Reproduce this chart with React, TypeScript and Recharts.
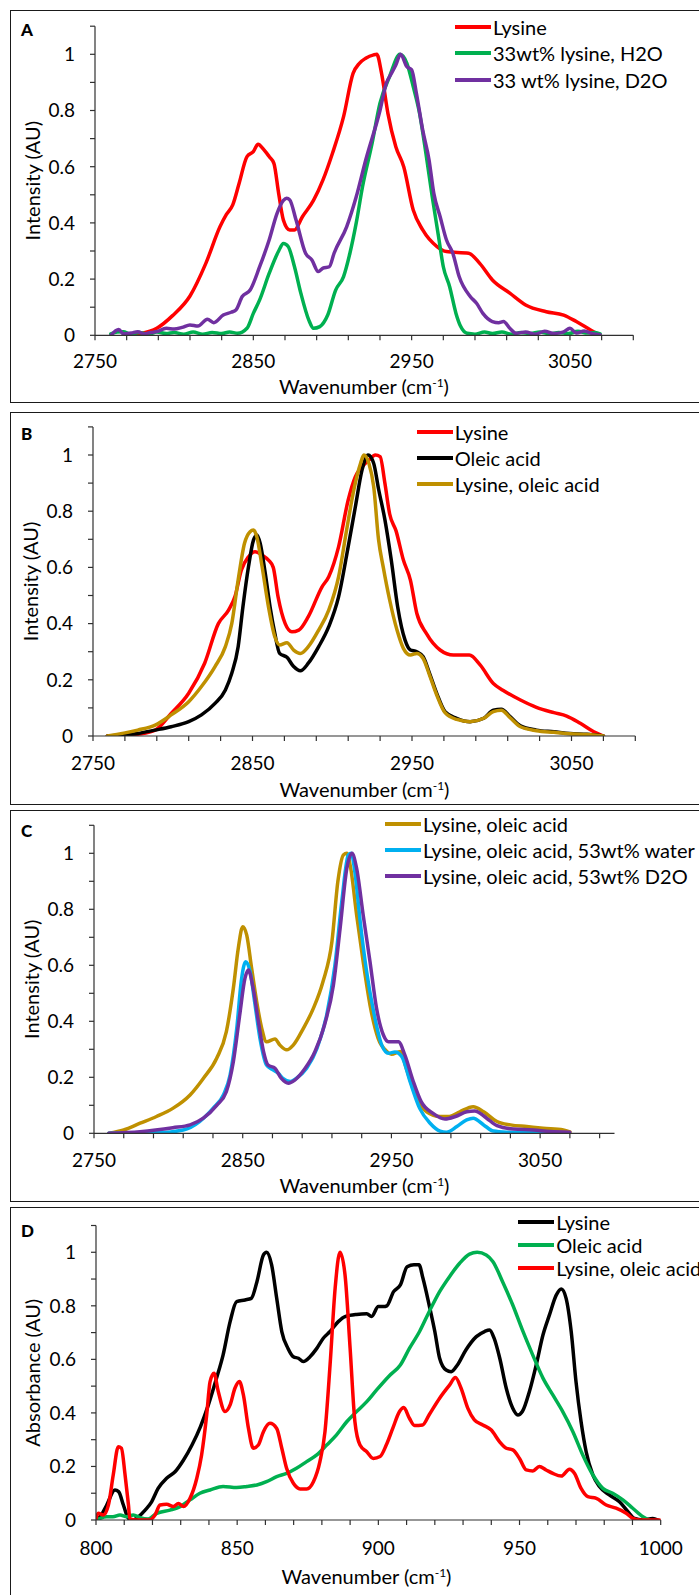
import { Legend, Line, LineChart, XAxis, YAxis } from 'recharts'

type Pt = [number, number]

// values: [wavenumber, normalised intensity]

// A: lysine, neat and in solution
const aLysine: Pt[] = [
  [2772, 0], [2778, 0.005], [2789, 0.025], [2799, 0.07], [2810, 0.14], [2820, 0.256], [2829, 0.387],
  [2833, 0.43], [2837, 0.464], [2841, 0.54], [2846, 0.636], [2850, 0.654], [2853, 0.68], [2856, 0.665],
  [2860, 0.636], [2863, 0.612], [2866, 0.505], [2869, 0.41], [2873, 0.375], [2876, 0.375], [2881, 0.422],
  [2888, 0.48], [2894, 0.553], [2900, 0.648], [2907, 0.778], [2913, 0.932], [2917, 0.968], [2921, 0.986],
  [2926, 0.998], [2928, 1.0], [2931, 0.932], [2935, 0.79], [2940, 0.671], [2945, 0.6], [2951, 0.446],
  [2957, 0.375], [2966, 0.316], [2972, 0.298], [2986, 0.292], [2993, 0.256], [3001, 0.197], [3012, 0.15],
  [3022, 0.108], [3035, 0.084], [3046, 0.072], [3054, 0.049], [3063, 0.019], [3069, 0],
]
const aLysineH2O: Pt[] = [
  [2760, 0.005], [2764, 0.012], [2768, 0.013], [2772, 0.005], [2778, 0.01], [2784, 0.004], [2789, 0.012],
  [2795, 0.006], [2800, 0.01], [2806, 0.004], [2812, 0.012], [2818, 0.004], [2824, 0.01], [2830, 0.006],
  [2835, 0.012], [2840, 0.007], [2846, 0.025], [2850, 0.078], [2854, 0.126], [2860, 0.22], [2866, 0.3],
  [2869, 0.327], [2872, 0.316], [2876, 0.244], [2880, 0.15], [2885, 0.055], [2888, 0.025], [2892, 0.031],
  [2897, 0.072], [2902, 0.161], [2907, 0.209], [2911, 0.292], [2915, 0.4], [2919, 0.53], [2925, 0.683],
  [2930, 0.826], [2936, 0.92], [2942.6, 1.0], [2947, 0.968], [2951, 0.885], [2955, 0.79], [2959, 0.648],
  [2963, 0.493], [2967, 0.351], [2970, 0.244], [2974, 0.173], [2978, 0.078], [2981, 0.031], [2985, 0.007],
  [2990, 0.004], [2996, 0.012], [3001, 0.006], [3007, 0.012], [3013, 0.004], [3019, 0.01], [3025, 0.006],
  [3031, 0.012], [3037, 0.005], [3043, 0.01], [3049, 0.006], [3055, 0.014], [3061, 0.008], [3066, 0.01],
  [3069, 0.005],
]
const aLysineD2O: Pt[] = [
  [2760, 0], [2765, 0.021], [2768, 0.005], [2773, 0.008], [2777, 0.013], [2781, 0.005], [2785, 0.01],
  [2789, 0.013], [2795, 0.025], [2800, 0.022], [2805, 0.028], [2810, 0.037], [2815, 0.033], [2821, 0.057],
  [2825, 0.045], [2831, 0.072], [2836, 0.082], [2839, 0.09], [2843, 0.138], [2848, 0.161], [2854, 0.244],
  [2860, 0.339], [2865, 0.434], [2869, 0.48], [2871, 0.488], [2873, 0.482], [2877, 0.41], [2883, 0.292],
  [2887, 0.268], [2891, 0.227], [2894, 0.239], [2898, 0.244], [2901, 0.292], [2909, 0.387], [2915, 0.493],
  [2921, 0.624], [2930, 0.8], [2934, 0.897], [2937, 0.93], [2940, 0.962], [2943, 1.0], [2947, 0.956],
  [2950, 0.945], [2953, 0.861], [2957, 0.73], [2961, 0.624], [2964, 0.505], [2968, 0.422], [2972, 0.339],
  [2976, 0.292], [2980, 0.209], [2987, 0.138], [2991, 0.114], [2995, 0.078], [3001, 0.049], [3005, 0.045],
  [3008, 0.049], [3012, 0.025], [3016, 0.007], [3022, 0.012], [3028, 0.004], [3034, 0.014], [3040, 0.006],
  [3046, 0.012], [3050, 0.025], [3054, 0.008], [3059, 0.015], [3064, 0.006], [3069, 0.002],
]

// B: lysine, oleic acid, mixture
const bLysine: Pt[] = [
  [2759, 0], [2770, 0], [2778, 0.006], [2789, 0.021], [2799, 0.08], [2810, 0.152], [2820, 0.259],
  [2828.6, 0.4], [2835, 0.448], [2839, 0.496], [2843, 0.59], [2847.5, 0.638], [2851.6, 0.656], [2856, 0.644],
  [2860, 0.626], [2863, 0.6], [2866, 0.496], [2870.5, 0.4], [2874.7, 0.371], [2879, 0.377], [2885, 0.425],
  [2893.6, 0.531], [2897.8, 0.567], [2904, 0.674], [2910, 0.84], [2914.5, 0.923], [2918.7, 0.958],
  [2923, 0.982], [2927, 1.0], [2930, 0.994], [2933, 0.9], [2936, 0.79], [2940, 0.73], [2944.6, 0.626],
  [2949, 0.555], [2953, 0.437], [2959, 0.365], [2967.6, 0.306], [2976, 0.288], [2986, 0.288], [2992.7, 0.253],
  [3001, 0.187], [3007, 0.163], [3018, 0.128], [3028, 0.102], [3039, 0.083], [3047, 0.071], [3055.5, 0.045],
  [3064, 0.015], [3070, 0],
]
const bOleic: Pt[] = [
  [2759, 0], [2778, 0.009], [2789, 0.021], [2799, 0.033], [2810, 0.051], [2818, 0.075], [2826.5, 0.116],
  [2833, 0.164], [2837, 0.223], [2841, 0.318], [2844, 0.46], [2847.5, 0.603], [2850.6, 0.697],
  [2852.7, 0.715], [2854.8, 0.686], [2858, 0.579], [2861, 0.46], [2864, 0.365], [2867, 0.294],
  [2871.6, 0.28], [2875.8, 0.247], [2880, 0.232], [2885, 0.259], [2891.5, 0.318], [2897.8, 0.389],
  [2904, 0.496], [2910, 0.674], [2914.5, 0.816], [2918.7, 0.947], [2922.5, 1.0], [2926, 0.97], [2929, 0.88],
  [2933, 0.77], [2937, 0.626], [2941, 0.46], [2945.6, 0.342], [2949, 0.306], [2953, 0.3], [2957, 0.282],
  [2961, 0.223], [2965.5, 0.152], [2970.7, 0.087], [2978, 0.063], [2986.4, 0.051], [2995, 0.063],
  [3001, 0.092], [3006, 0.095], [3011.5, 0.069], [3018, 0.036], [3028, 0.021], [3039, 0.015], [3049, 0.009],
  [3059.7, 0.006], [3070, 0],
]
const bMix: Pt[] = [
  [2759, 0], [2778, 0.021], [2789, 0.039], [2799, 0.075], [2810, 0.122], [2818, 0.176], [2826.5, 0.247],
  [2833, 0.318], [2837, 0.4], [2841, 0.555], [2845, 0.686], [2848.5, 0.727], [2850.6, 0.733], [2852.7, 0.709],
  [2856, 0.603], [2860, 0.46], [2864, 0.353], [2867, 0.324], [2871.6, 0.332], [2875.8, 0.306], [2880, 0.294],
  [2885, 0.318], [2891.5, 0.377], [2897.8, 0.448], [2904, 0.567], [2909, 0.733], [2913.5, 0.875],
  [2917.7, 0.97], [2919.8, 1.0], [2923, 0.97], [2926, 0.887], [2929, 0.7], [2932, 0.6], [2936, 0.484],
  [2940.6, 0.377], [2944.6, 0.312], [2949, 0.288], [2953, 0.294], [2957, 0.276], [2961, 0.217],
  [2965.5, 0.146], [2970.7, 0.083], [2978, 0.059], [2986.4, 0.051], [2995, 0.063], [3001, 0.087],
  [3006, 0.092], [3011.5, 0.065], [3018, 0.033], [3028, 0.019], [3039, 0.013], [3049, 0.008],
  [3059.7, 0.005], [3070, 0],
]

// C: mixture with water / D2O
const cMix: Pt[] = [
  [2760, 0], [2770, 0.012], [2781, 0.036], [2792, 0.06], [2803, 0.089], [2814.6, 0.137], [2823.5, 0.196],
  [2832.5, 0.268], [2839, 0.363], [2843.7, 0.518], [2847, 0.66], [2850, 0.738], [2852.7, 0.708],
  [2856, 0.589], [2859.4, 0.47], [2862.8, 0.375], [2866, 0.327], [2871.7, 0.337], [2875, 0.315],
  [2879.6, 0.298], [2884, 0.315], [2890.8, 0.375], [2897.5, 0.446], [2904, 0.542], [2910, 0.685],
  [2914, 0.9], [2917.7, 0.994], [2920, 1.0], [2922.5, 0.95], [2926.6, 0.78], [2931, 0.613], [2935.6, 0.458],
  [2941, 0.34], [2947, 0.292], [2950, 0.282], [2956, 0.292], [2960, 0.232], [2967, 0.125], [2973.7, 0.077],
  [2982.7, 0.06], [2989, 0.06], [2996, 0.077], [3005, 0.095], [3012, 0.077], [3021, 0.042], [3030, 0.03],
  [3041, 0.024], [3052, 0.018], [3065.6, 0.012], [3070, 0.005],
]
const cMixWater: Pt[] = [
  [2760, 0], [2792, 0.002], [2810, 0.012], [2821, 0.042], [2830, 0.089], [2837, 0.137], [2841.5, 0.208],
  [2846, 0.375], [2849, 0.542], [2852, 0.613], [2855, 0.577], [2858, 0.47], [2861.6, 0.339], [2866, 0.244],
  [2870.6, 0.226], [2874, 0.214], [2877, 0.196], [2882, 0.185], [2886, 0.196], [2893, 0.232], [2900, 0.304],
  [2906.5, 0.423], [2912, 0.6], [2916.6, 0.827], [2921, 0.994], [2923, 1.0], [2925.5, 0.93], [2929, 0.756],
  [2933, 0.589], [2938, 0.435], [2943.5, 0.315], [2948, 0.286], [2952.4, 0.29], [2957, 0.274],
  [2962.5, 0.185], [2969, 0.089], [2976, 0.036], [2982.7, 0.008], [2987, 0.004], [2994, 0.024],
  [3000.6, 0.048], [3005, 0.054], [3012, 0.03], [3018.6, 0.008], [3027.5, 0.004], [3045, 0.002], [3065, 0],
]
const cMixD2O: Pt[] = [
  [2760, 0], [2781, 0.006], [2803, 0.02], [2814.6, 0.03], [2823.5, 0.054], [2832.5, 0.1], [2839, 0.149],
  [2843.7, 0.256], [2848, 0.423], [2851.5, 0.553], [2853.8, 0.583], [2857, 0.518], [2860.5, 0.4],
  [2864, 0.292], [2867, 0.244], [2871.7, 0.232], [2876, 0.196], [2880.7, 0.179], [2885, 0.19], [2892, 0.232],
  [2898.6, 0.292], [2905, 0.387], [2911, 0.53], [2915.5, 0.732], [2920, 0.946], [2923.5, 1.0],
  [2926.6, 0.946], [2931, 0.78], [2935.6, 0.613], [2940, 0.446], [2944.6, 0.351], [2948, 0.327],
  [2954.7, 0.327], [2959, 0.28], [2964.7, 0.185], [2970, 0.113], [2978, 0.071], [2986, 0.051], [2993, 0.06],
  [3000.6, 0.077], [3006, 0.08], [3014, 0.054], [3021, 0.027], [3032, 0.015], [3045.5, 0.012],
  [3056.7, 0.006], [3070, 0.004],
]

// D: IR absorbance
const dLysine: Pt[] = [
  [800, 0], [801.4, 0.012], [803.8, 0.056], [806.7, 0.112], [808, 0.106], [809.7, 0.056], [811.5, 0.006],
  [813, 0], [815, 0.012], [817.4, 0.037], [819.7, 0.068], [822, 0.118], [825, 0.156], [828, 0.18],
  [831, 0.224], [834, 0.28], [837, 0.349], [839.8, 0.43], [842.7, 0.53], [845, 0.616], [847.5, 0.741],
  [849.8, 0.816], [852.8, 0.822], [855, 0.828], [857, 0.89], [859.3, 0.99], [860.4, 1.0], [862.2, 0.953],
  [864, 0.828], [865.8, 0.704], [868, 0.641], [869.9, 0.61], [871.7, 0.604], [873.4, 0.592], [875.8, 0.61],
  [878.2, 0.641], [880.5, 0.679], [882.9, 0.704], [885.8, 0.741], [888.2, 0.76], [892.3, 0.768],
  [895.9, 0.77], [897.6, 0.76], [900, 0.797], [901.8, 0.797], [903, 0.8], [905.4, 0.853], [907.8, 0.878],
  [910.2, 0.946], [912.6, 0.953], [914.4, 0.953], [915.8, 0.903], [918, 0.803], [920, 0.704], [921.7, 0.604],
  [924, 0.56], [925.8, 0.554], [928, 0.579], [931, 0.635], [934.7, 0.685], [937.6, 0.704], [939.4, 0.71],
  [941, 0.679], [943, 0.604], [945.3, 0.492], [947.6, 0.417], [949.4, 0.392], [951, 0.405], [953.5, 0.48],
  [955.9, 0.579], [958.3, 0.691], [960.6, 0.766], [963, 0.84], [964.8, 0.863], [966.5, 0.828],
  [968.3, 0.704], [970, 0.517], [971.8, 0.367], [973.6, 0.255], [976, 0.168], [978.3, 0.125], [981.9, 0.093],
  [985.4, 0.068], [988.4, 0.031], [990.7, 0.006], [993.7, 0], [997.2, 0.006], [999, 0],
]
const dOleic: Pt[] = [
  [801, 0.004], [803.8, 0.012], [806, 0.012], [808.5, 0.019], [810.9, 0.012], [813.2, 0.019], [815.6, 0.009],
  [818.5, 0.004], [821.5, 0.025], [826.2, 0.037], [829.8, 0.05], [833.3, 0.075], [836.8, 0.1], [840.4, 0.112],
  [845, 0.125], [849.8, 0.121], [853.4, 0.125], [857, 0.131], [860.4, 0.143], [864, 0.162], [867.5, 0.174],
  [871, 0.193], [874.6, 0.218], [878.2, 0.243], [881.7, 0.28], [885.2, 0.318], [888.8, 0.367],
  [892.3, 0.405], [895.9, 0.442], [899.4, 0.486], [904, 0.54], [907.8, 0.579], [911, 0.641], [914.6, 0.704],
  [918, 0.778], [921.7, 0.853], [925.2, 0.909], [928.8, 0.959], [932.3, 0.993], [935, 1.0], [938.2, 0.99],
  [940.6, 0.965], [944, 0.89], [947.6, 0.803], [951, 0.71], [954.7, 0.616], [958.3, 0.53], [961.8, 0.467],
  [965.3, 0.405], [968.9, 0.33], [972.4, 0.243], [976, 0.168], [979.5, 0.118], [983, 0.1], [986.6, 0.075],
  [990.1, 0.044], [993.7, 0.012], [996, 0],
]
const dMix: Pt[] = [
  [800, 0.006], [800.8, 0.025], [802.6, 0.019], [804.4, 0.056], [806.1, 0.168], [807.9, 0.274], [809, 0.268],
  [810.3, 0.168], [811.5, 0.056], [812, 0.004], [814.4, 0], [819, 0], [820.9, 0.019], [822.7, 0.056],
  [825, 0.059], [827.4, 0.05], [829.2, 0.062], [831, 0.05], [833.3, 0.081], [835.7, 0.156], [837.4, 0.243],
  [839.2, 0.392], [840.4, 0.517], [841.8, 0.548], [843.3, 0.48], [845.7, 0.405], [847.5, 0.43],
  [849.2, 0.492], [850.8, 0.517], [852.2, 0.467], [854, 0.342], [855.7, 0.268], [857.5, 0.28], [859.3, 0.33],
  [861.6, 0.361], [864, 0.342], [865.8, 0.268], [867.5, 0.193], [869.9, 0.137], [872.3, 0.116],
  [874.6, 0.116], [877, 0.143], [879.3, 0.218], [881.1, 0.33], [882.9, 0.579], [884.7, 0.866], [886.4, 1.0],
  [888.2, 0.915], [890, 0.641], [891.7, 0.367], [893.5, 0.28], [895.9, 0.255], [898.2, 0.23], [900.6, 0.237],
  [902.8, 0.28], [905.1, 0.342], [907.5, 0.405], [909, 0.42], [911, 0.38], [912.8, 0.353], [915.7, 0.355],
  [918, 0.393], [921.7, 0.455], [925.2, 0.504], [927.3, 0.532], [929.3, 0.492], [931.7, 0.417], [934, 0.374],
  [937, 0.355], [940, 0.336], [942.9, 0.293], [945.3, 0.268], [947.6, 0.262], [950, 0.23], [952.4, 0.187],
  [954.7, 0.183], [957, 0.2], [959.4, 0.187], [961.8, 0.174], [964.8, 0.164], [967.7, 0.19], [969.5, 0.174],
  [971.8, 0.118], [974.2, 0.087], [977.2, 0.081], [980.7, 0.056], [984.2, 0.044], [987.8, 0.025],
  [990.1, 0.006], [992.5, 0], [999.6, 0],
]

const yTicks = [0, 0.1, 0.2, 0.3, 0.4, 0.5, 0.6, 0.7, 0.8, 0.9, 1, 1.1]
const yLabels = [0, 0.2, 0.4, 0.6, 0.8, 1]
const ramanTicks = [
  2750, 2770, 2790, 2810, 2830, 2850, 2870, 2890, 2910, 2930, 2950, 2970, 2990, 3010, 3030, 3050, 3070, 3090,
]
const ramanLabels = [2750, 2850, 2950, 3050]
const irTicks = [
  800, 810, 820, 830, 840, 850, 860, 870, 880, 890, 900, 910, 920, 930, 940, 950, 960, 970, 980, 990, 1000,
]
const irLabels = [800, 850, 900, 950, 1000]

const RED = '#ff0000'
const GREEN = '#00b050'
const PURPLE = '#7030a0'
const BLACK = '#000000'
const GOLD = '#bf9000'
const CYAN = '#00b0f0'

const PAGE_W = 699
const PAGE_H = 1595
const Y_AXIS_W = 40
const X_AXIS_H = 40
const FONT = 'Lato, "Open Sans", sans-serif'
const AXIS = '#303030'

type Series = { name: string; color: string; points: Pt[] }

type PanelCfg = {
  letter: string
  letterY: number
  yTitle: string
  yTitleX: number
  xTitleX: number
  xTitleY: number
  boxTop: number
  boxH: number
  chartTop: number
  chartH: number
  plot: { l: number; r: number; t: number; b: number }
  xDomain: [number, number]
  xTicks: number[]
  xLabels: number[]
  labelDrop: number
  legend: { left: number; top: number; row: number }
  series: Series[]
}

const panels: PanelCfg[] = [
  {
    letter: 'A', letterY: 36, yTitle: 'Intensity (AU)', yTitleX: 33, xTitleX: 364, xTitleY: 394,
    boxTop: 10, boxH: 393.3, chartTop: 10, chartH: 393,
    plot: { l: 95, r: 633.3, t: 26.2, b: 335.3 },
    xDomain: [2750, 3090], xTicks: ramanTicks, xLabels: ramanLabels, labelDrop: 28,
    legend: { left: 455, top: 13.4, row: 26.7 },
    series: [
      { name: 'Lysine', color: RED, points: aLysine },
      { name: '33wt% lysine, H2O', color: GREEN, points: aLysineH2O },
      { name: '33 wt% lysine, D2O', color: PURPLE, points: aLysineD2O },
    ],
  },
  {
    letter: 'B', letterY: 440, yTitle: 'Intensity (AU)', yTitleX: 30.5, xTitleX: 364.5, xTitleY: 797,
    boxTop: 411.7, boxH: 393.3, chartTop: 412, chartH: 393,
    plot: { l: 93, r: 635.3, t: 426.9, b: 736 },
    xDomain: [2750, 3090], xTicks: ramanTicks, xLabels: ramanLabels, labelDrop: 29,
    legend: { left: 416.7, top: 418.5, row: 26.3 },
    series: [
      { name: 'Lysine', color: RED, points: bLysine },
      { name: 'Oleic acid', color: BLACK, points: bOleic },
      { name: 'Lysine, oleic acid', color: GOLD, points: bMix },
    ],
  },
  {
    letter: 'C', letterY: 836.7, yTitle: 'Intensity (AU)', yTitleX: 32, xTitleX: 364.5, xTitleY: 1193,
    boxTop: 810, boxH: 391.7, chartTop: 810, chartH: 391,
    plot: { l: 94, r: 614.5, t: 825.3, b: 1133.3 },
    xDomain: [2750, 3100], xTicks: ramanTicks, xLabels: ramanLabels, labelDrop: 28.4,
    legend: { left: 385, top: 811.4, row: 25.9 },
    series: [
      { name: 'Lysine, oleic acid', color: GOLD, points: cMix },
      { name: 'Lysine, oleic acid, 53wt% water', color: CYAN, points: cMixWater },
      { name: 'Lysine, oleic acid, 53wt% D2O', color: PURPLE, points: cMixD2O },
    ],
  },
  {
    letter: 'D', letterY: 1237, yTitle: 'Absorbance (AU)', yTitleX: 32.6, xTitleX: 366.5, xTitleY: 1584,
    boxTop: 1206.7, boxH: 420, chartTop: 1207, chartH: 388,
    plot: { l: 96, r: 660.7, t: 1225.5, b: 1520 },
    xDomain: [800, 1000], xTicks: irTicks, xLabels: irLabels, labelDrop: 30,
    legend: { left: 518.3, top: 1210.8, row: 23 },
    series: [
      { name: 'Lysine', color: BLACK, points: dLysine },
      { name: 'Oleic acid', color: GREEN, points: dOleic },
      { name: 'Lysine, oleic acid', color: RED, points: dMix },
    ],
  },
]

const xTick = (labels: number[], drop: number) => (props: any) => {
  const { x, y, payload } = props
  if (!labels.includes(payload.value)) return <g />
  return (
    <text x={x} y={y + drop} textAnchor="middle" fontSize={19} fill="#000" fontFamily={FONT}>
      {payload.value}
    </text>
  )
}

const yTick = (props: any) => {
  const { x, y, payload } = props
  if (!yLabels.includes(payload.value)) return <g />
  return (
    <text x={x - 15} y={y} dy="0.36em" textAnchor="end" fontSize={19} fill="#000" fontFamily={FONT}>
      {String(payload.value)}
    </text>
  )
}

function LegendRows({ series, row }: { series: Series[]; row: number }) {
  return (
    <div style={{ display: 'flex', flexDirection: 'column', fontFamily: FONT }}>
      {series.map((s) => (
        <div key={s.name} style={{ height: row, display: 'flex', alignItems: 'center' }}>
          <span style={{ width: 36, height: 4, background: s.color, marginRight: 2, flex: 'none' }} />
          <span style={{ fontSize: 20, lineHeight: '20px', whiteSpace: 'nowrap', color: '#000' }}>{s.name}</span>
        </div>
      ))}
    </div>
  )
}

function Panel({ cfg }: { cfg: PanelCfg }) {
  const { plot } = cfg
  const margin = {
    top: plot.t - cfg.chartTop,
    right: PAGE_W - plot.r,
    bottom: cfg.chartTop + cfg.chartH - plot.b - X_AXIS_H,
    left: plot.l - Y_AXIS_W,
  }
  const yMid = (plot.t + plot.b) / 2

  return (
    <>
      <div
        style={{
          position: 'absolute',
          left: 10,
          top: cfg.boxTop,
          width: 760,
          height: cfg.boxH,
          border: '1.5px solid #1a1a1a',
          boxSizing: 'border-box',
        }}
      />
      <div style={{ position: 'absolute', left: 0, top: cfg.chartTop }}>
        <LineChart width={PAGE_W} height={cfg.chartH} margin={margin}>
          <XAxis
            type="number"
            dataKey="x"
            domain={cfg.xDomain}
            ticks={cfg.xTicks}
            interval={0}
            allowDataOverflow
            height={X_AXIS_H}
            tickSize={5}
            tickMargin={0}
            axisLine={{ stroke: AXIS, strokeWidth: 1.2 }}
            tickLine={{ stroke: AXIS, strokeWidth: 1.2 }}
            tick={xTick(cfg.xLabels, cfg.labelDrop)}
          />
          <YAxis
            type="number"
            domain={[0, 1.1]}
            ticks={yTicks}
            interval={0}
            allowDataOverflow
            width={Y_AXIS_W}
            tickSize={5}
            tickMargin={0}
            axisLine={{ stroke: AXIS, strokeWidth: 1.2 }}
            tickLine={{ stroke: AXIS, strokeWidth: 1.2 }}
            tick={yTick}
          />
          <Legend
            layout="vertical"
            align="center"
            verticalAlign="middle"
            wrapperStyle={{ left: cfg.legend.left, top: cfg.legend.top - cfg.chartTop, width: 'auto' }}
            content={() => <LegendRows series={cfg.series} row={cfg.legend.row} />}
          />
          {cfg.series.map((s) => (
            <Line
              key={s.name}
              name={s.name}
              data={s.points.map(([x, y]) => ({ x, y }))}
              dataKey="y"
              type="monotone"
              stroke={s.color}
              strokeWidth={3.5}
              strokeLinejoin="round"
              strokeLinecap="round"
              dot={false}
              activeDot={false}
              isAnimationActive={false}
            />
          ))}
        </LineChart>
      </div>
      <svg
        width={PAGE_W}
        height={PAGE_H}
        style={{ position: 'absolute', left: 0, top: 0, pointerEvents: 'none' }}
        fontFamily={FONT}
      >
        <text x={21} y={cfg.letterY} fontSize={17} fontWeight={900} fill="#000">
          {cfg.letter}
        </text>
        <text
          transform={`translate(${cfg.yTitleX},${yMid}) rotate(-90)`}
          textAnchor="middle"
          dy="0.35em"
          fontSize={20}
          fill="#000"
        >
          {cfg.yTitle}
        </text>
        <text x={cfg.xTitleX} y={cfg.xTitleY} textAnchor="middle" fontSize={20} fill="#000">
          Wavenumber (cm
          <tspan dy={-7} fontSize={12}>
            -1
          </tspan>
          <tspan dy={7}>)</tspan>
        </text>
      </svg>
    </>
  )
}

export default function App() {
  return (
    <div
      style={{
        position: 'absolute',
        left: 0,
        top: 0,
        width: PAGE_W,
        height: PAGE_H,
        overflow: 'hidden',
        background: '#fff',
        fontFamily: FONT,
      }}
    >
      {panels.map((p) => (
        <Panel key={p.letter} cfg={p} />
      ))}
    </div>
  )
}
